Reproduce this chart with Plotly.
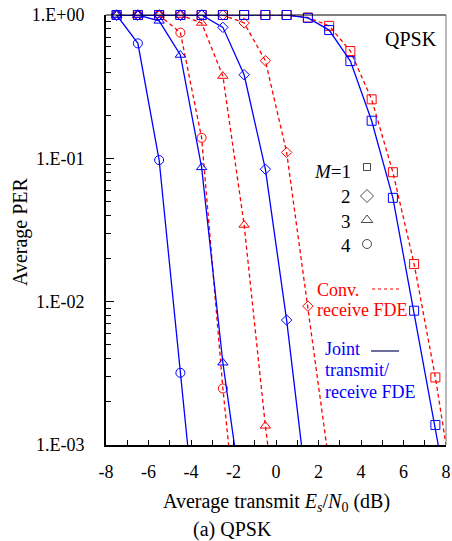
import plotly.graph_objects as go
import numpy as np

# ---------------- data ----------------
x_m1 = [-7.5, -6.5, -5.5, -4.5, -3.5, -2.5, -1.5, -0.5, 0.5, 1.5, 2.5, 3.5, 4.5, 5.5, 6.5, 7.5, 8.5]
conv_m1 = [1, 1, 1, 1, 1, 1, 1, 1, 1, 0.96, 0.84, 0.56, 0.258, 0.080, 0.0183, 0.00296, 0.00034]
joint_m1 = [1, 1, 1, 1, 1, 1, 1, 1, 1, 0.955, 0.785, 0.477, 0.183, 0.053, 0.00865, 0.00138, 0.0002]

x_conv_m2 = [-7.5, -6.5, -5.5, -4.5, -3.5, -2.5, -1.5, -0.5, 0.5, 1.5, 2.5]
conv_m2 = [1, 1, 1, 1, 1, 1, 0.88, 0.48, 0.110, 0.0093, 0.00074]
x_joint_m2 = [-7.5, -6.5, -5.5, -4.5, -3.5, -2.5, -1.5, -0.5, 0.5, 1.5]
joint_m2 = [1, 1, 1, 1, 1, 0.82, 0.383, 0.084, 0.00744, 0.00042]

x_conv_m3 = [-7.5, -6.5, -5.5, -4.5, -3.5, -2.5, -1.5, -0.5, 0.5]
conv_m3 = [1, 1, 1, 1, 0.88, 0.375, 0.0343, 0.00136, 0.00009]
x_joint_m3 = [-7.5, -6.5, -5.5, -4.5, -3.5, -2.5, -1.5]
joint_m3 = [1, 1, 0.91, 0.526, 0.0865, 0.00375, 0.00033]

x_conv_m4 = [-7.5, -6.5, -5.5, -4.5, -3.5, -2.5, -1.5]
conv_m4 = [1, 1, 1, 0.753, 0.139, 0.00248, 0.000086]
x_joint_m4 = [-7.5, -6.5, -5.5, -4.5, -3.5]
joint_m4 = [1, 0.634, 0.0973, 0.00319, 0.000106]

x_ticks = [-8, -6, -4, -2, 0, 2, 4, 6, 8]
x_ticktext = ["-8", "-6", "-4", "-2", "0", "2", "4", "6", "8"]
y_ticks = [1, 0.1, 0.01, 0.001]
y_ticktext = ["1.E+00", "1.E-01", "1.E-02", "1.E-03"]
m_labels = ["<i>M</i>=1", "2", "3", "4"]

RED = "#FF0000"
BLUE = "#0000FF"
FONT = "Liberation Serif"

fig = go.Figure()

def add_series(xs, ys, color, dash, symbol, size):
    ys = np.array(ys, dtype=float)
    op = np.where(ys >= 1e-3 * 0.999, 1.0, 0.0)
    fig.add_trace(go.Scatter(
        x=xs, y=ys, mode="lines+markers",
        line=dict(color=color, width=1.3, dash=dash),
        marker=dict(symbol=symbol + "-open", size=size, color=color,
                    opacity=op, line=dict(width=1, color=color)),
        cliponaxis=False, showlegend=False, hoverinfo="skip"))

dash_r = "4px,3px"
add_series(x_m1, conv_m1, RED, dash_r, "square", 9)
add_series(x_conv_m2, conv_m2, RED, dash_r, "diamond", 8)
add_series(x_conv_m3, conv_m3, RED, dash_r, "triangle-up", 9)
add_series(x_conv_m4, conv_m4, RED, dash_r, "circle", 9)
add_series(x_m1, joint_m1, BLUE, "solid", "square", 9)
add_series(x_joint_m2, joint_m2, BLUE, "solid", "diamond", 8)
add_series(x_joint_m3, joint_m3, BLUE, "solid", "triangle-up", 9)
add_series(x_joint_m4, joint_m4, BLUE, "solid", "circle", 9)

# body margin is removed by post_script, so the figure fills the page
W, H = 452, 541
# plot area in page pixels
L, R, T, B = 106, 446, 15, 445
def px(xp):
    return (xp - L) / (R - L)
def py(yp):
    return (B - yp) / (B - T)

# legend symbols on overlay axes
sym_y = [167, 196, 220, 244]
sym_list = ["square-open", "diamond-open", "triangle-up-open", "circle-open"]
sym_size = [7, 10, 10, 9]
fig.add_trace(go.Scatter(
    x=[px(367)] * 4, y=[py(v) for v in sym_y], mode="markers",
    marker=dict(symbol=sym_list, size=sym_size, color="black", line=dict(width=1, color="black")),
    xaxis="x2", yaxis="y2", showlegend=False, cliponaxis=False, hoverinfo="skip"))

minor_y = [m * 10.0 ** e for e in (-3, -2, -1) for m in range(2, 10)]

fig.update_layout(
    width=W, height=H,
    margin=dict(l=L, r=W - R, t=T, b=H - B, autoexpand=False),
    paper_bgcolor="white", plot_bgcolor="white",
    font=dict(family=FONT, size=18, color="black"),
    hovermode=False,
    xaxis=dict(range=[-8, 8], tickvals=x_ticks, ticktext=x_ticktext, ticks="inside", ticklen=5,
               tickcolor="black", showgrid=False, zeroline=False, automargin=False,
               showline=True, linecolor="black", linewidth=2,
               tickfont=dict(size=18), ticklabelstandoff=9, ticklabeloverflow="allow",
               minor=dict(tickvals=[-7, -5, -3, -1, 1, 3, 5, 7], ticks="inside",
                          ticklen=5, tickcolor="black")),
    yaxis=dict(type="log", range=[-3, 0], tickvals=y_ticks, ticktext=y_ticktext,
               ticks="inside", ticklen=8, tickcolor="black", showgrid=False, automargin=False,
               zeroline=False, showline=True, linecolor="black", linewidth=2,
               tickfont=dict(size=18), ticklabelstandoff=16, ticklabeloverflow="allow",
               minor=dict(tickvals=minor_y, ticks="inside", ticklen=5, tickcolor="black")),
    xaxis2=dict(overlaying="x", range=[0, 1], visible=False, automargin=False),
    yaxis2=dict(overlaying="y", range=[0, 1], visible=False, automargin=False),
)

# frame top and right
fig.add_shape(type="line", xref="paper", yref="paper", x0=0, x1=1, y0=1, y1=1,
              line=dict(color="black", width=1))
fig.add_shape(type="line", xref="paper", yref="paper", x0=1, x1=1, y0=0, y1=1,
              line=dict(color="#777777", width=1))

ann = []
def text(x, y, s, size=18, color="black", xanchor="center", angle=0):
    ann.append(dict(x=px(x), y=py(y), xref="paper", yref="paper", text=s,
                    showarrow=False, xanchor=xanchor, yanchor="middle",
                    textangle=angle, font=dict(family=FONT, size=size, color=color)))

text(411, 39, "QPSK", size=20)
for lab, yy in zip(m_labels, [172, 197, 221, 245]):
    text(353, yy, lab, size=19, xanchor="right")

text(315, 290, "Conv.", size=18, color=RED, xanchor="left")
text(315, 310, "receive FDE", size=18, color=RED, xanchor="left")
text(323, 349, "Joint", size=18, color=BLUE, xanchor="left")
text(323, 370, "transmit/", size=18, color=BLUE, xanchor="left")
text(323, 392, "receive FDE", size=18, color=BLUE, xanchor="left")

fig.add_shape(type="line", xref="paper", yref="paper", x0=px(372), x1=px(400),
              y0=py(289), y1=py(289), line=dict(color=RED, width=1.2, dash="3px,3px"))
fig.add_shape(type="line", xref="paper", yref="paper", x0=px(371), x1=px(399),
              y0=py(351), y1=py(351), line=dict(color="#101060", width=1.2))

text(20, 232, "Average PER", size=20, angle=-90)
text(276, 503, "Average transmit <i>E<sub>s</sub></i>/<i>N</i><sub>0</sub> (dB)", size=20)
text(232, 529, "(a) QPSK", size=20)

fig.update_layout(annotations=ann)
fig.write_html("out.html",
               config={"displayModeBar": False, "staticPlot": True},
               post_script="document.body.style.margin='0';document.body.style.overflow='hidden';")
